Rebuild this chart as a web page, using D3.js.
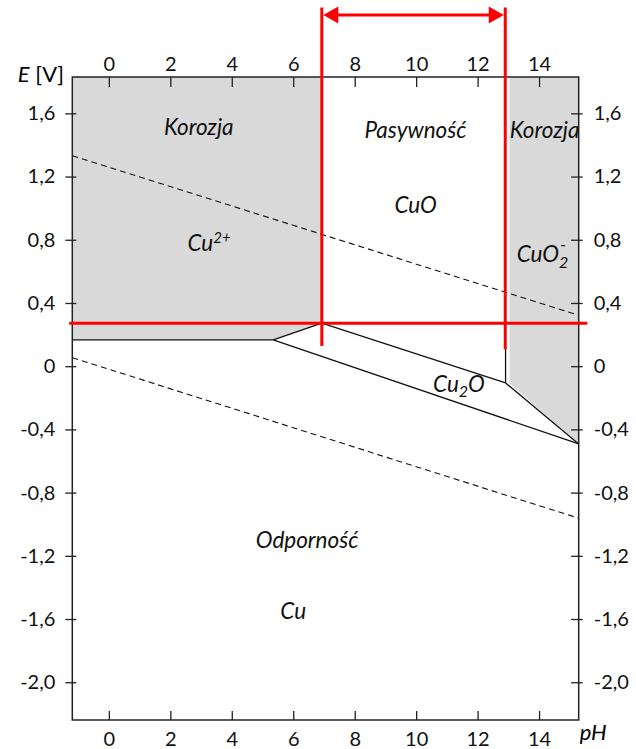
<!DOCTYPE html>
<html>
<head>
<meta charset="utf-8">
<script src="https://cdn.jsdelivr.net/npm/d3@7"></script>
<style>
  body { margin: 0; background: #fff; }
  svg { font-family: Lato, "Open Sans", sans-serif; }
  .axis text { font-size: 20px; fill: #111; }
  .axis line { stroke: #222; stroke-width: 1.3; }
  .label { font-size: 22.5px; font-style: italic; fill: #111; }
</style>
</head>
<body>
<svg id="chart" width="636" height="749"></svg>
<script>
// axes
const pHDomain = [-1.19, 15.29];
const eDomain = [-2.239, 1.83];
const pHTicks = [0, 2, 4, 6, 8, 10, 12, 14];
const eTicks = [1.6, 1.2, 0.8, 0.4, 0, -0.4, -0.8, -1.2, -1.6, -2.0];

// shaded corrosion fields [pH, E]
const corrosionAcid = [[-1.19, 1.83], [6.93, 1.83], [6.93, 0.273], [5.35, 0.166], [-1.19, 0.166]];
const corrosionAlkaline = [[13.04, 1.83], [15.29, 1.83], [15.29, -0.49], [13.04, -0.11]];

// phase boundaries
const boundaries = [
    [[-1.19, 0.166], [5.35, 0.166]],
    [[5.35, 0.166], [6.93, 0.273]],
    [[6.93, 0.273], [12.91, -0.106]],
    [[5.35, 0.166], [15.29, -0.492]],
    [[12.91, -0.106], [15.29, -0.492]],
    [[12.91, 0.12], [12.91, -0.106]]
];

// water stability lines (dashed)
const waterLines = [
    [[-1.19, 1.332], [15.29, 0.322]],
    [[-1.19, 0.054], [15.29, -0.962]]
];

// passivity range marks
const passiveRange = [6.93, 12.9];
const passiveBottom = [0.128, 0.107];
const markTop = 2.27;
const arrowE = 2.223;
const passiveE = 0.272;
const passiveLineRange = [-1.29, 15.57];

// labels: text, pH, E, anchor
const labels = [
    {t: "Korozja", x: 2.925, y: 1.460, a: "middle"},
    {t: "Pasywność", x: 9.98, y: 1.444, a: "middle"},
    {t: "Korozja", x: 14.18, y: 1.444, a: "middle"},
    {t: "CuO", x: 9.98, y: 0.970, a: "middle"},
    {t: "Odporność", x: 6.45, y: -1.151, a: "middle"},
    {t: "Cu", x: 6.0, y: -1.60, a: "middle"}
];

const svg = d3.select("#chart");
const pLeft = 72.3, pRight = 578.7, pTop = 77, pBottom = 720;

const x = d3.scaleLinear().domain(pHDomain).range([pLeft, pRight]);
const y = d3.scaleLinear().domain(eDomain).range([pBottom, pTop]);
const line = d3.line().x(d => x(d[0])).y(d => y(d[1]));

const fmt = v => v === 0 ? "0" : v.toFixed(1).replace(".", ",");

// fields
svg.selectAll(".field")
    .data([corrosionAcid, corrosionAlkaline])
    .enter().append("path")
    .attr("class", "field")
    .attr("d", d => line(d) + "Z")
    .attr("fill", "#d9d9d9");

// dashed water lines
svg.selectAll(".water")
    .data(waterLines)
    .enter().append("path")
    .attr("d", line)
    .attr("fill", "none")
    .attr("stroke", "#111")
    .attr("stroke-width", 1.1)
    .attr("stroke-dasharray", "6,4");

// boundaries
svg.selectAll(".bound")
    .data(boundaries)
    .enter().append("path")
    .attr("d", line)
    .attr("fill", "none")
    .attr("stroke", "#111")
    .attr("stroke-width", 1.3);

// frame
svg.append("rect")
    .attr("x", pLeft).attr("y", pTop)
    .attr("width", pRight - pLeft).attr("height", pBottom - pTop)
    .attr("fill", "none")
    .attr("stroke", "#222")
    .attr("stroke-width", 1.5);

// axes
const gl = svg.append("g").attr("class", "axis")
    .attr("transform", "translate(" + pLeft + ",0)")
    .call(d3.axisLeft(y).tickValues(eTicks).tickFormat(fmt).tickSize(7).tickPadding(10));
gl.selectAll("line").attr("x1", 4);

const gr = svg.append("g").attr("class", "axis")
    .attr("transform", "translate(" + pRight + ",0)")
    .call(d3.axisRight(y).tickValues(eTicks).tickFormat(fmt).tickSize(4).tickPadding(11));
gr.selectAll("line").attr("x1", -7.6);

const gt = svg.append("g").attr("class", "axis")
    .attr("transform", "translate(0," + pTop + ")")
    .call(d3.axisTop(x).tickValues(pHTicks).tickSize(0).tickPadding(6));
gt.selectAll("line").attr("y2", 10);

const gb = svg.append("g").attr("class", "axis")
    .attr("transform", "translate(0," + pBottom + ")")
    .call(d3.axisBottom(x).tickValues(pHTicks).tickSize(0).tickPadding(12));
gb.selectAll("line").attr("y2", -9);

svg.selectAll(".axis .domain").remove();
svg.selectAll(".axis text").style("font-family", "Lato, sans-serif");

// labels
svg.selectAll(".label")
    .data(labels)
    .enter().append("text")
    .attr("class", "label")
    .attr("x", d => x(d.x))
    .attr("y", d => y(d.y))
    .attr("text-anchor", d => d.a)
    .text(d => d.t);

const cu2 = svg.append("text").attr("class", "label")
    .attr("x", x(2.56)).attr("y", y(0.729));
cu2.append("tspan").text("Cu");
cu2.append("tspan").attr("dy", -8).style("font-size", "15px").text("2+");

const cuo2 = svg.append("text").attr("class", "label")
    .attr("x", x(13.27)).attr("y", y(0.659));
cuo2.append("tspan").text("CuO");
cuo2.append("tspan").attr("dy", 6).style("font-size", "16px").text("2");
cuo2.append("tspan").attr("dx", -8).attr("dy", -18).style("font-size", "16px").text("-");

const cu2o = svg.append("text").attr("class", "label")
    .attr("x", x(10.55)).attr("y", y(-0.161));
cu2o.append("tspan").text("Cu");
cu2o.append("tspan").attr("dy", 5).style("font-size", "16px").text("2");
cu2o.append("tspan").attr("dy", -5).text("O");

svg.append("text").attr("class", "axis-title")
    .attr("x", 64).attr("y", 82)
    .attr("text-anchor", "end")
    .style("font-size", "22px")
    .html('<tspan font-style="italic">E</tspan> [V]');

svg.append("text")
    .attr("x", pRight + 1).attr("y", 740)
    .style("font-size", "22px").style("font-style", "italic")
    .text("pH");

// red passivity marks
const red = "#ff0000";
svg.append("path")
    .attr("d", line([[passiveLineRange[0], passiveE], [passiveLineRange[1], passiveE]]))
    .attr("stroke", red).attr("stroke-width", 3);

svg.selectAll(".redv")
    .data(passiveRange)
    .enter().append("path")
    .attr("d", (d, i) => line([[d, markTop], [d, passiveBottom[i]]]))
    .attr("stroke", red).attr("stroke-width", 3);

const ax0 = x(passiveRange[0]) + 1.5, ax1 = x(passiveRange[1]) - 1.5, ay = y(arrowE);
svg.append("line")
    .attr("x1", ax0 + 10).attr("x2", ax1 - 10)
    .attr("y1", ay).attr("y2", ay)
    .attr("stroke", red).attr("stroke-width", 3);
svg.append("path")
    .attr("d", "M" + ax0 + "," + ay + "l15,-8.5l0,17Z")
    .attr("fill", red);
svg.append("path")
    .attr("d", "M" + ax1 + "," + ay + "l-15,-8.5l0,17Z")
    .attr("fill", red);
</script>
</body>
</html>
